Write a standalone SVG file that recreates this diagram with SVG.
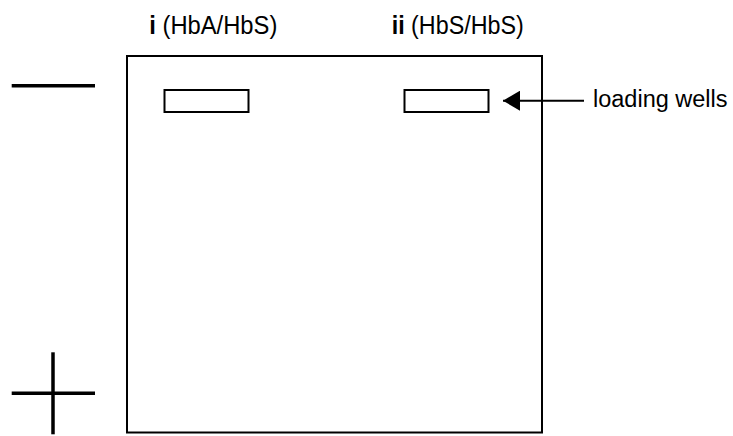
<svg xmlns="http://www.w3.org/2000/svg" width="733" height="436" viewBox="0 0 733 436">
<style>
.ln{stroke:#000;fill:none}
.t{font-family:"Liberation Sans",Arial,sans-serif;font-size:25px;fill:#000}
.tw{font-family:"Liberation Sans",Arial,sans-serif;font-size:23.5px;fill:#000}
</style>
<defs>
<marker id="ah" markerWidth="18" markerHeight="20" refX="17" refY="10" orient="auto" markerUnits="userSpaceOnUse">
<path d="M0,0 L17,10 L0,20 Z" fill="#000"/>
</marker>
</defs>
<rect width="733" height="436" fill="#fff"/>
<g id="gel">
<rect class="ln" x="127" y="56" width="415" height="376.5" stroke-width="2"/>
</g>
<g id="well-i">
<rect class="ln" x="164.5" y="90" width="84" height="22" stroke-width="2"/>
</g>
<g id="well-ii">
<rect class="ln" x="404.5" y="90" width="84" height="22" stroke-width="2"/>
</g>
<g id="label-i">
<text class="t" x="149.3" y="33.5" textLength="128" lengthAdjust="spacingAndGlyphs"><tspan font-weight="bold">i</tspan> (HbA/HbS)</text>
</g>
<g id="label-ii">
<text class="t" x="391.7" y="33.5" textLength="132" lengthAdjust="spacingAndGlyphs"><tspan font-weight="bold">ii</tspan> (HbS/HbS)</text>
</g>
<g id="label-wells">
<text class="tw" x="593" y="107">loading wells</text>
</g>
<g id="minus">
<line class="ln" x1="11.7" y1="85.7" x2="95" y2="85.7" stroke-width="3.5"/>
</g>
<g id="plus">
<line class="ln" x1="11.7" y1="393.3" x2="95" y2="393.3" stroke-width="3.5"/>
<line class="ln" x1="53" y1="352.3" x2="53" y2="434.3" stroke-width="3.5"/>
</g>
<g id="connectors">
<line class="ln" x1="584" y1="100.7" x2="503" y2="100.7" stroke-width="2" marker-end="url(#ah)"/>
</g>
</svg>
